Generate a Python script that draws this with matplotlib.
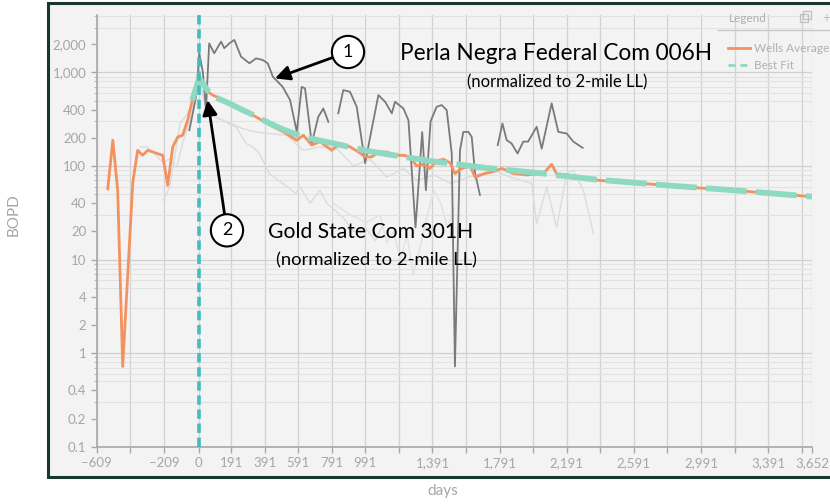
import numpy as np
import matplotlib
matplotlib.use('Agg')
import matplotlib.pyplot as plt
from matplotlib.patches import Rectangle
from matplotlib.lines import Line2D
from matplotlib.ticker import FixedLocator, FuncFormatter, NullFormatter

plt.rcParams['font.family'] = ['Lato', 'DejaVu Sans']

# ---- data ----
# wells average (BOPD vs days since peak)
avg_days = [-543, -513, -484, -454, -394, -365, -335, -305, -275, -245, -216, -186, -156, -126,
            -97, -67, -37, -7, 23, 52, 82, 142, 181, 261, 340, 423, 503, 583, 622, 672, 721, 791,
            841, 900, 950, 990, 1030, 1070, 1119, 1168, 1218, 1257, 1297, 1337, 1376, 1416, 1456,
            1496, 1525, 1565, 1615, 1645, 1704, 1754, 1804, 1873, 1953, 2032, 2062, 2101, 2141,
            2191, 2241, 2290, 2390, 2590, 2790, 2990, 3190, 3390, 3652]
avg_vals = [57, 188, 55, 0.72, 67, 147, 130, 147, 141, 135, 130, 62, 160, 204,
            213, 308, 525, 862, 731, 620, 571, 510, 466, 395, 335, 273, 231, 188, 213, 167, 182, 147,
            174, 160, 141, 125, 125, 141, 141, 130, 130, 125, 100, 104, 94, 113, 118,
            108, 83, 94, 100, 76, 83, 87, 94, 83, 80, 83, 87, 104, 76,
            80, 76, 73, 70, 66, 62, 58, 55, 51, 47]

# best fit decline
fit_days = [-40, 2, 52, 100, 181, 261, 340, 423, 503, 622, 801, 999, 1257, 1376, 1615, 1715,
            2052, 2350, 2787, 3184, 3652]
fit_vals = [500, 870, 640, 540, 466, 395, 340, 284, 245, 204, 174, 145, 122, 113, 100, 95,
            83, 72, 62, 55, 47]

# Perla Negra Federal Com 006H
well1_days = [-57, -17, 2, 23, 42, 61, 91, 132, 151, 181, 211, 251, 301, 340, 380, 410, 440,
              499, 543, 583, 612, 632, 672, 711, 741, 771, np.nan,
              830, 860, 900, 940, 990, 1020, 1069, 1109, 1149, 1168, 1218, 1248, 1290, 1330,
              1352, 1380, 1416, 1446, 1476, 1506, 1525, 1555, 1575, 1605, 1625, 1645, 1674, np.nan,
              1780, 1808, 1833, 1862, 1898, 1932, 1961, 2012, 2042, 2101, 2141, 2191, 2230, 2286]
well1_vals = [241, 549, 1600, 1015, 400, 2040, 1600, 2130, 1810, 2040, 2220, 1470, 1250, 1410,
              1355, 1250, 900, 700, 505, 231, 700, 673, 174, 335, 411, 296, np.nan,
              365, 646, 620, 428, 107, 204, 571, 485, 365, 485, 411, 308, 22, 230,
              55, 300, 428, 447, 395, 136, 0.72, 147, 231, 231, 204, 83, 49, np.nan,
              167, 284, 189, 174, 136, 182, 182, 262, 153, 466, 231, 222, 182, 156]

# other wells (faint)
f1_days = [-350, -311, -272, -212, -173, -134, -95, -55, -17, 3, 42, 92, 142, 181, 221, 281,
           320, 360, 420, 499, 578, 602, 662, 721, 761, 800, 860, 920, 990, 1050, 1100]
f1_vals = [160, 160, 140, 108, 120, 95, 180, 300, 620, 900, 395, 340, 308, 280, 262, 174,
           160, 136, 83, 65, 51, 60, 40, 55, 40, 35, 28, 20, 22, 16, 24]
f2_days = [-212, -173, -113, -73, -30, 0, 42, 100, 181, 261, 340, 423, 523, 622, 721, 821,
           920, 1020, 1119, 1218, 1300, 1400, 1500, 1600, 1700, 1754, 1853, 1982, 2012, 2072,
           2131, 2191, 2230, 2290, 2350]
f2_vals = [43, 60, 285, 350, 520, 760, 430, 330, 290, 250, 230, 222, 213, 147, 160, 154,
           100, 118, 76, 94, 70, 80, 65, 75, 85, 90, 76, 65, 24, 60,
           22, 83, 90, 55, 19]
f3_days = [800, 900, 1000, 1080, 1119, 1160, 1198, 1240, 1277, 1320, 1360, 1400, 1440, 1480, 1520]
f3_vals = [40, 30, 25, 30, 15, 20, 10, 18, 7, 14, 30, 55, 40, 22, 35]

x_ticks = [-609, -409, -209, 0, 191, 391, 591, 791, 991, 1191, 1391, 1591, 1791, 1991, 2191,
           2391, 2591, 2791, 2991, 3191, 3391, 3591, 3652]
x_labels = [-609, -209, 0, 191, 391, 591, 791, 991, 1391, 1791, 2191, 2591, 2991, 3391, 3652]
y_labels = [0.1, 0.2, 0.4, 1, 2, 4, 10, 20, 40, 100, 200, 400, 1000, 2000]

# ---- figure ----
W, H = 830, 504
fig = plt.figure(figsize=(W / 100, H / 100), dpi=100)
fig.patch.set_facecolor('white')

def fx(px):
    return px / W

def fy(py):
    return 1 - py / H

bg = '#f3f3f3'
fig.patches.append(Rectangle((fx(48), fy(477)), fx(840) - fx(48), fy(3) - fy(477),
                             transform=fig.transFigure, facecolor=bg, edgecolor='#17392b',
                             lw=2.2, zorder=-10))

ax = fig.add_axes([fx(96.7), fy(446.7), fx(812) - fx(96.7), fy(15) - fy(446.7)])
ax.set_facecolor(bg)
ax.set_yscale('log')
ax.set_xlim(-609, 3652)
ax.set_ylim(0.1, 4100)

faint = '#dcdcdc'
ax.plot(f1_days, f1_vals, color=faint, lw=1.0, zorder=2)
ax.plot(f2_days, f2_vals, color=faint, lw=1.0, zorder=2)
ax.plot(f3_days, f3_vals, color='#e2e2e2', lw=1.0, zorder=2)
ax.plot(well1_days, well1_vals, color='#7a7a7a', lw=1.3, zorder=3)
ax.plot(avg_days, avg_vals, color='#f4925f', lw=2.0, zorder=4)
ax.plot(fit_days, fit_vals, color='#8fd9c3', lw=4.2, dashes=(7, 1.6), zorder=5,
        solid_capstyle='butt', dash_capstyle='butt')
ax.axvline(0, color='#45bcbc', lw=2.6, dashes=(2.6, 1.3), zorder=6)

# axes styling
for s in ['top', 'right']:
    ax.spines[s].set_visible(False)
for s in ['left', 'bottom']:
    ax.spines[s].set_color('#a8a8a8')
    ax.spines[s].set_linewidth(1.2)

ax.xaxis.set_major_locator(FixedLocator(x_ticks))
ax.xaxis.set_major_formatter(FuncFormatter(
    lambda v, p: f'{int(round(v)):,}'.replace('-', '\u2212') if int(round(v)) in x_labels else ''))
ax.yaxis.set_major_locator(FixedLocator(y_labels))
ax.yaxis.set_major_formatter(FuncFormatter(lambda v, p: f'{v:,.0f}' if v >= 1 else f'{v:g}'))
minor_y = [m * 10.0 ** e for e in range(-1, 4) for m in range(2, 10)]
minor_y = [v for v in minor_y if v not in y_labels]
ax.yaxis.set_minor_locator(FixedLocator(minor_y))
ax.yaxis.set_minor_formatter(NullFormatter())
ax.tick_params(axis='both', which='major', colors='#a8a8a8', labelcolor='#a6a6a6',
               labelsize=9.5, length=4, width=1)
ax.tick_params(axis='y', which='minor', colors='#bdbdbd', length=2, width=0.8)

ax.grid(True, axis='x', which='major', color='#d2d2d2', lw=0.9, zorder=1)
ax.grid(True, axis='y', which='minor', color='#e2e2e2', lw=0.8, zorder=1)
for d in [0.1, 1, 10, 100, 1000]:
    ax.axhline(d, color='#d0d0d0', lw=0.9, zorder=1)
ax.set_axisbelow(True)

fig.text(fx(14), fy(215), 'BOPD', rotation=90, ha='center', va='center',
         color='#a6a6a6', fontsize=11)
fig.text(fx(443), fy(491), 'days', ha='center', va='center', color='#a6a6a6', fontsize=11)

# legend
fig.text(fx(748), fy(18), 'Legend', ha='center', va='center', color='#b0b0b0', fontsize=8.5)
fig.add_artist(Line2D([fx(718), fx(830)], [fy(30), fy(30)], color='#c8c8c8', lw=1))
fig.patches.append(Rectangle((fx(800), fy(22)), fx(8) - fx(0), fy(0) - fy(8),
                             transform=fig.transFigure, facecolor='none', edgecolor='#c0c0c0', lw=0.9))
fig.patches.append(Rectangle((fx(803), fy(19)), fx(8) - fx(0), fy(0) - fy(8),
                             transform=fig.transFigure, facecolor='none', edgecolor='#c0c0c0', lw=0.9))
fig.text(fx(826), fy(18), '+', ha='center', va='center', color='#c0c0c0', fontsize=10)
handles = [Line2D([], [], color='#f4925f', lw=2.0),
           Line2D([], [], color='#8fd9c3', lw=2.0, dashes=(2.5, 1.8))]
leg = ax.legend(handles, ['Wells Average', 'Best Fit'], loc='upper left',
                bbox_to_anchor=(fx(722), fy(37)), bbox_transform=fig.transFigure,
                frameon=False, fontsize=8.5, labelcolor='#b0b0b0', handlelength=1.9,
                handletextpad=0.35, labelspacing=0.5, borderpad=0)

# callouts
circ = dict(boxstyle='circle,pad=0.45', fc='white', ec='black', lw=1.5)
arrow = dict(arrowstyle='-|>', color='black', lw=2.0, mutation_scale=22, shrinkA=0, shrinkB=0)
ax.annotate('1', xy=(453, 862), xytext=(888, 1650), fontsize=13, ha='center', va='center',
            bbox=circ, arrowprops=arrow, zorder=10)
ax.annotate('2', xy=(52, 505), xytext=(167, 20.5), fontsize=13, ha='center', va='center',
            bbox=circ, arrowprops=arrow, zorder=10)

fig.text(fx(400), fy(54), 'Perla Negra Federal Com 006H', ha='left', va='center',
         fontsize=16.3, color='black')
fig.text(fx(557), fy(82), '(normalized to 2-mile LL)', ha='center', va='center',
         fontsize=12, color='black')
fig.text(fx(268), fy(232), 'Gold State Com 301H', ha='left', va='center',
         fontsize=15.2, color='black')
fig.text(fx(376), fy(260), '(normalized to 2-mile LL)', ha='center', va='center',
         fontsize=13.3, color='black')

fig.savefig('out.png', dpi=100, facecolor='white')
